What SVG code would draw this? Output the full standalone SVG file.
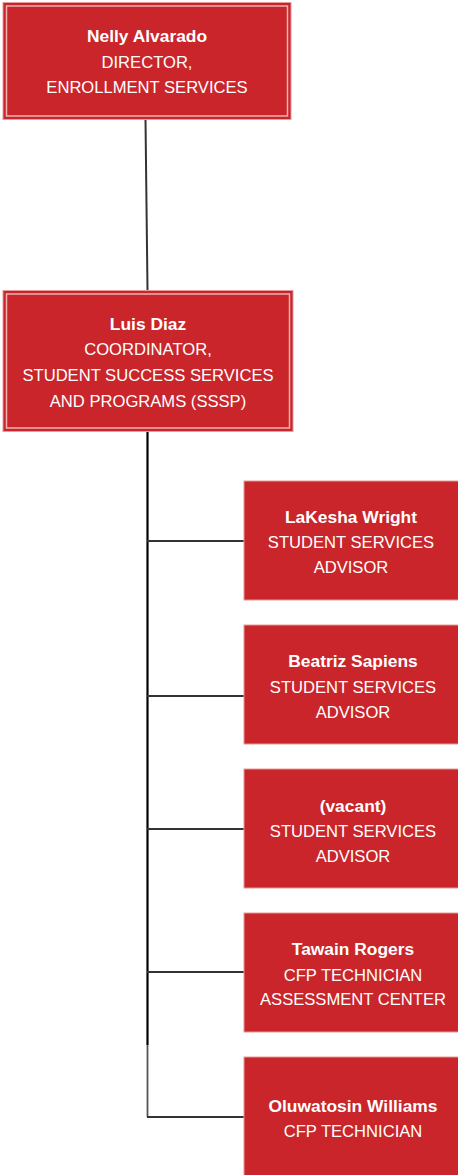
<svg xmlns="http://www.w3.org/2000/svg" width="458" height="1175" viewBox="0 0 458 1175">
<style>
.box{fill:#C9252A;stroke:#E59A9C;stroke-width:1}
.inner{fill:none;stroke:#EFB3B4;stroke-width:1.5}
.t{font-family:"Liberation Sans",Arial,sans-serif;font-size:16.6px;fill:#FFFFFF;text-anchor:middle}
.b{font-weight:bold;font-size:17.4px}
.c{stroke:#333333;stroke-width:2;fill:none}
</style>
<rect width="458" height="1175" fill="#FFFFFF"/>
<g id="connectors">
<line class="c" x1="145.5" y1="120" x2="147.5" y2="290" stroke-width="1.5"/>
<line x1="147.5" y1="432" x2="147.5" y2="1045" stroke="#000000" stroke-width="2.2"/>
<line x1="147.5" y1="1045" x2="147.5" y2="1117" stroke="#555555" stroke-width="1.8"/>
<line class="c" x1="147" y1="541" x2="244" y2="541"/>
<line class="c" x1="147" y1="696" x2="244" y2="696"/>
<line x1="247" y1="672" x2="247" y2="696" stroke="#A01A1E" stroke-width="2"/>
<line class="c" x1="147" y1="829" x2="244" y2="829"/>
<line class="c" x1="147" y1="972" x2="244" y2="972"/>
<line class="c" x1="147" y1="1117" x2="244" y2="1117"/>
</g>
<g id="nelly">
<rect class="box" x="3" y="2.5" width="288" height="117"/>
<rect class="inner" x="6.5" y="6" width="281" height="110"/>
<text class="t b" x="147" y="42">Nelly Alvarado</text>
<text class="t" x="147" y="68">DIRECTOR,</text>
<text class="t" x="147" y="93">ENROLLMENT SERVICES</text>
</g>
<g id="luis">
<rect class="box" x="3" y="290.5" width="290" height="141"/>
<rect class="inner" x="6.5" y="294" width="283" height="134"/>
<text class="t b" x="148" y="330">Luis Diaz</text>
<text class="t" x="148" y="355">COORDINATOR,</text>
<text class="t" x="148" y="381">STUDENT SUCCESS SERVICES</text>
<text class="t" x="148" y="407">AND PROGRAMS (SSSP)</text>
</g>
<g id="lakesha">
<rect class="box" x="244" y="481" width="215" height="119"/>
<text class="t b" x="351" y="523">LaKesha Wright</text>
<text class="t" x="351" y="548">STUDENT SERVICES</text>
<text class="t" x="351" y="573">ADVISOR</text>
</g>
<g id="beatriz">
<rect class="box" x="244" y="625" width="215" height="119"/>
<text class="t b" x="353" y="667">Beatriz Sapiens</text>
<text class="t" x="353" y="692.5">STUDENT SERVICES</text>
<text class="t" x="353" y="718">ADVISOR</text>
</g>
<g id="vacant">
<rect class="box" x="244" y="769" width="215" height="119"/>
<text class="t b" x="353" y="812">(vacant)</text>
<text class="t" x="353" y="837">STUDENT SERVICES</text>
<text class="t" x="353" y="862">ADVISOR</text>
</g>
<g id="tawain">
<rect class="box" x="244" y="913" width="215" height="119"/>
<text class="t b" x="353" y="955">Tawain Rogers</text>
<text class="t" x="353" y="981">CFP TECHNICIAN</text>
<text class="t" x="353" y="1005">ASSESSMENT CENTER</text>
</g>
<g id="oluwatosin">
<rect class="box" x="244" y="1057" width="215" height="119"/>
<text class="t b" x="353" y="1112">Oluwatosin Williams</text>
<text class="t" x="353" y="1137">CFP TECHNICIAN</text>
</g>
</svg>
